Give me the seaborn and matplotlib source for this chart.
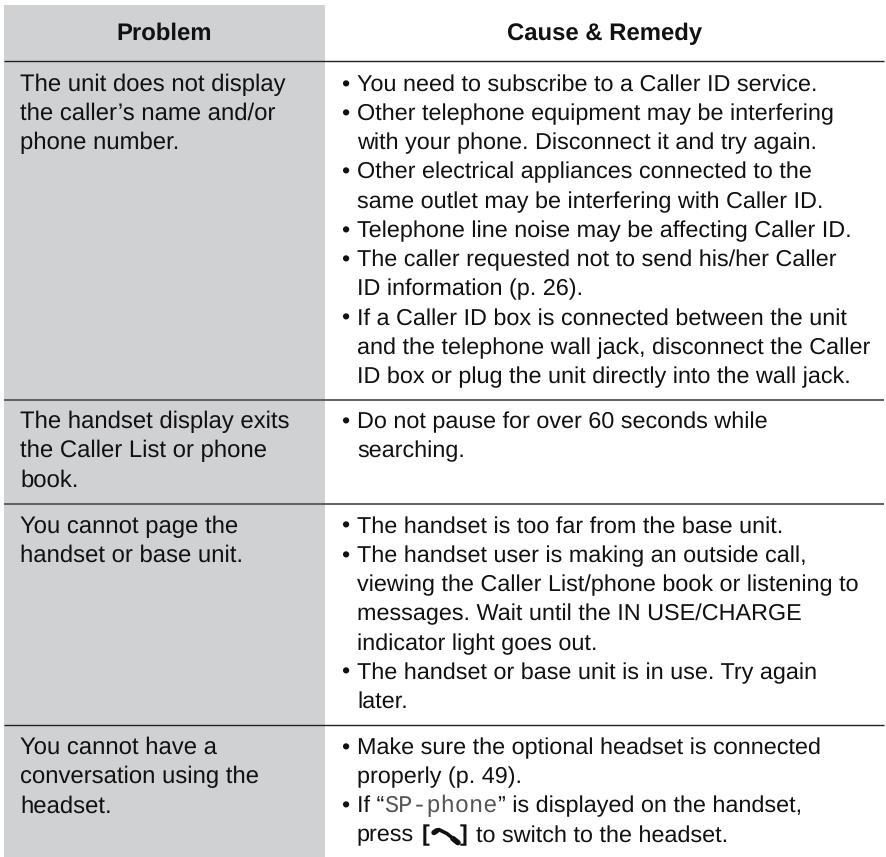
# Troubleshooting table from a phone manual

import matplotlib
matplotlib.use("Agg")
import matplotlib.pyplot as plt
import seaborn as sns

headers = ["Problem", "Cause & Remedy"]

problems = [
    ["The unit does not display", "the caller\u2019s name and/or", "phone number."],
    ["The handset display exits", "the Caller List or phone", "book."],
    ["You cannot page the", "handset or base unit."],
    ["You cannot have a", "conversation using the", "headset."],
]

# "*" at the start of a line means it gets a bullet
remedies = [
    ["*You need to subscribe to a Caller ID service.",
     "*Other telephone equipment may be interfering",
     "with your phone. Disconnect it and try again.",
     "*Other electrical appliances connected to the",
     "same outlet may be interfering with Caller ID.",
     "*Telephone line noise may be affecting Caller ID.",
     "*The caller requested not to send his/her Caller",
     "ID information (p. 26).",
     "*If a Caller ID box is connected between the unit",
     "and the telephone wall jack, disconnect the Caller",
     "ID box or plug the unit directly into the wall jack."],
    ["*Do not pause for over 60 seconds while",
     "searching."],
    ["*The handset is too far from the base unit.",
     "*The handset user is making an outside call,",
     "viewing the Caller List/phone book or listening to",
     "messages. Wait until the IN USE/CHARGE",
     "indicator light goes out.",
     "*The handset or base unit is in use. Try again",
     "later."],
    ["*Make sure the optional headset is connected",
     "properly (p. 49).",
     "*If \u201c|SP-phone|\u201d is displayed on the handset,",
     "press ^ to switch to the headset."],
]

# layout, in pixels
W, H = 886, 857
GREY = "#d0d1d3"
INK = "#111111"
LEFT, SPLIT, RIGHT = 4, 325, 884
RULES = [(61, 1.0, "#222222"), (400, 1.3, "#555555"), (503.5, 1.3, "#555555"), (725, 1.0, "#222222")]
FIRST_BASE = [91, 428, 533, 754]
LINE_H = 29.2
PROB_SIZE = 17.2
SIZE = 16.8

sns.set_theme(style="white")
plt.rcParams["font.family"] = ["Liberation Sans", "DejaVu Sans"]
plt.rcParams["text.hinting"] = "none"

fig = plt.figure(figsize=(W / 100, H / 100), dpi=100)

# shaded problem column
shade = fig.add_axes([LEFT / W, 0, (SPLIT - LEFT) / W, 1 - 5 / H])
sns.heatmap([[1]], ax=shade, cbar=False, cmap=[GREY], xticklabels=False, yticklabels=False)

ax = fig.add_axes([0, 0, 1, 1])
ax.set_xlim(0, W)
ax.set_ylim(H, 0)
ax.patch.set_alpha(0)
ax.axis("off")

ax.text((LEFT + SPLIT) / 2, 40, headers[0], ha="center", va="baseline", fontsize=17.2, fontweight="bold", color=INK)
ax.text(604.5, 40, headers[1], ha="center", va="baseline", fontsize=17.2, fontweight="bold", color=INK)

for y, lw, color in RULES:
    ax.plot([LEFT, RIGHT], [y, y], color=color, lw=lw, solid_capstyle="butt")


def draw_icon(x, y):
    # handset glyph from the manual, y is the baseline
    ax.plot([x + 4, x + 9, x + 17, x + 22, x + 28], [y - 9, y - 12, y - 8, y - 4, y + 1], color=INK, lw=2.6, solid_capstyle="round")
    ax.plot([x + 4, x + 7], [y - 9, y - 11], color=INK, lw=3.8, solid_capstyle="round")
    ax.plot([x + 23, x + 28], [y - 3, y + 1], color=INK, lw=4.0, solid_capstyle="round")


def draw_runs(x, y, line):
    renderer = fig.canvas.get_renderer()
    if "^" in line:
        before, after = line.split("^")
        t = ax.text(x, y, before.rstrip(), va="baseline", fontsize=SIZE, color=INK)
        x = t.get_window_extent(renderer).x1 + 8
        t = ax.text(x, y, "[", va="baseline", fontsize=SIZE, fontweight="bold", color=INK)
        x = t.get_window_extent(renderer).x1
        draw_icon(x, y)
        t = ax.text(x + 30, y, "]", va="baseline", fontsize=SIZE, fontweight="bold", color=INK)
        ax.text(t.get_window_extent(renderer).x1 + 8, y, after.lstrip(), va="baseline", fontsize=SIZE, color=INK)
        return
    parts = line.split("|")
    for i, part in enumerate(parts):
        if i % 2:
            t = ax.text(x, y, part, va="baseline", fontsize=17.0, family="Liberation Mono", color="#555555")
        else:
            t = ax.text(x, y, part, va="baseline", fontsize=SIZE, color=INK)
        x = t.get_window_extent(renderer).x1


for base, prob, rem in zip(FIRST_BASE, problems, remedies):
    for i, line in enumerate(prob):
        ax.text(20, base + i * LINE_H, line, va="baseline", fontsize=PROB_SIZE, color=INK)
    for i, line in enumerate(rem):
        y = base + i * LINE_H
        if line.startswith("*"):
            ax.text(341, y, "\u2022", va="baseline", fontsize=SIZE, color=INK)
            line = line[1:]
        draw_runs(357, y, line)

fig.savefig("out.png", dpi=100)
